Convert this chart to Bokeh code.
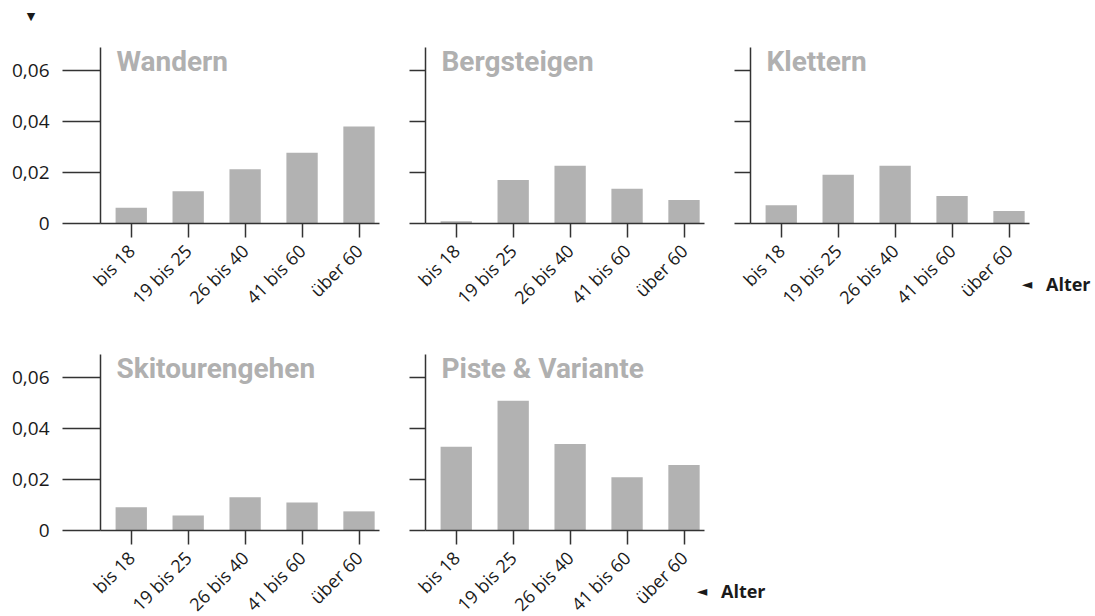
from math import pi
from bokeh.plotting import figure
from bokeh.layouts import row, column
from bokeh.models import FixedTicker, CustomJSTickFormatter, Label, Range1d
from bokeh.embed import file_html
from bokeh.resources import INLINE

# ---- data ----
age_groups = ["bis 18", "19 bis 25", "26 bis 40", "41 bis 60", "über 60"]
wandern = [0.0062, 0.0126, 0.0213, 0.0277, 0.0380]
bergsteigen = [0.0009, 0.0171, 0.0226, 0.0136, 0.0092]
klettern = [0.0072, 0.0191, 0.0226, 0.0108, 0.0049]
skitouren = [0.0091, 0.0059, 0.0130, 0.0110, 0.0075]
piste = [0.0328, 0.0509, 0.0339, 0.0209, 0.0257]
y_ticks = [0, 0.02, 0.04, 0.06]
x_title = "Alter"

BAR = "#b2b2b2"
AXIS = "#333333"
TEXT = "#1a1a1a"
FONT = "Open Sans"

# axis extents (data units) and pixel scale
X0, X1 = 0.46, 5.36
Y0, Y1 = 0.0, 0.069
FRAME_W, FRAME_H = 279, 176
PPX = FRAME_W / (X1 - X0)
PPY = FRAME_H / (Y1 - Y0)


def panel(title, values, width, height, axis_x, zero_y, show_y, tick_len,
          alter=False, arrow=False):
    xs = list(range(1, len(age_groups) + 1))
    xr = Range1d(X0 - axis_x / PPX, X0 + (width - axis_x) / PPX)
    yr = Range1d(-(height - zero_y) / PPY, zero_y / PPY)
    p = figure(width=width, height=height, x_range=xr, y_range=yr,
               output_backend="svg", toolbar_location=None,
               min_border=0, min_border_left=0, min_border_right=0,
               min_border_top=0, min_border_bottom=0,
               outline_line_color=None, background_fill_color="white",
               border_fill_color="white")
    p.title.visible = False
    p.vbar(x=xs, top=values, width=0.55, fill_color=BAR, line_color=None)
    p.xgrid.visible = False
    p.ygrid.visible = False

    xa = p.xaxis[0]
    xa.fixed_location = 0
    xa.bounds = (X0, X1)
    xa.ticker = FixedTicker(ticks=xs)
    xa.major_label_overrides = {i + 1: lab for i, lab in enumerate(age_groups)}
    xa.major_label_orientation = pi / 4
    xa.major_label_standoff = 10
    xa.major_label_text_font = FONT
    xa.major_label_text_font_size = "18px"
    xa.major_label_text_color = TEXT
    xa.axis_line_color = AXIS
    xa.axis_line_width = 1.5
    xa.major_tick_line_color = AXIS
    xa.major_tick_line_width = 1.5
    xa.major_tick_in = 0
    xa.major_tick_out = 14
    xa.minor_tick_line_color = None

    ya = p.yaxis[0]
    ya.fixed_location = X0
    ya.bounds = (Y0, Y1)
    ya.ticker = FixedTicker(ticks=y_ticks)
    if show_y:
        ya.formatter = CustomJSTickFormatter(
            code="return tick == 0 ? '0' : tick.toFixed(2).replace('.', ',');")
    else:
        ya.formatter = CustomJSTickFormatter(code="return '';")
    ya.major_label_standoff = 13
    ya.major_label_text_font = FONT
    ya.major_label_text_font_size = "19px"
    ya.major_label_text_color = TEXT
    ya.axis_line_color = AXIS
    ya.axis_line_width = 1.5
    ya.major_tick_line_color = AXIS
    ya.major_tick_line_width = 1.5
    ya.major_tick_in = 0
    ya.major_tick_out = tick_len
    ya.minor_tick_line_color = None

    p.add_layout(Label(x=0.74, y=0.0637, text=title, text_font="Roboto",
                       text_font_style="bold", text_font_size="28px",
                       text_color="#b0b0b0", text_align="left",
                       text_baseline="middle"))
    if alter:
        p.add_layout(Label(x=5.22, y=-0.0239, text="◄", text_font="DejaVu Sans",
                           text_font_size="14px", text_color=TEXT,
                           text_align="left", text_baseline="middle"))
        p.add_layout(Label(x=5.65, y=-0.0237, text=x_title, text_font=FONT,
                           text_font_style="bold", text_font_size="18px",
                           text_color=TEXT, text_align="left",
                           text_baseline="middle"))
    if arrow:
        p.add_layout(Label(x=-0.76, y=0.0812, text="▼", text_font="DejaVu Sans",
                           text_font_size="11px", text_color=TEXT,
                           text_align="center", text_baseline="middle"))
    return p


p1 = panel("Wandern", wandern, 395, 315, 100, 223, True, 38, arrow=True)
p2 = panel("Bergsteigen", bergsteigen, 325, 315, 30, 223, False, 16)
p3 = panel("Klettern", klettern, 374, 315, 30, 223, False, 16, alter=True)
p4 = panel("Skitourengehen", skitouren, 395, 300, 100, 215, True, 38)
p5 = panel("Piste & Variante", piste, 699, 300, 30, 215, False, 16, alter=True)

layout = column(row(p1, p2, p3), row(p4, p5))

open("out.html", "w").write(file_html(layout, INLINE))
